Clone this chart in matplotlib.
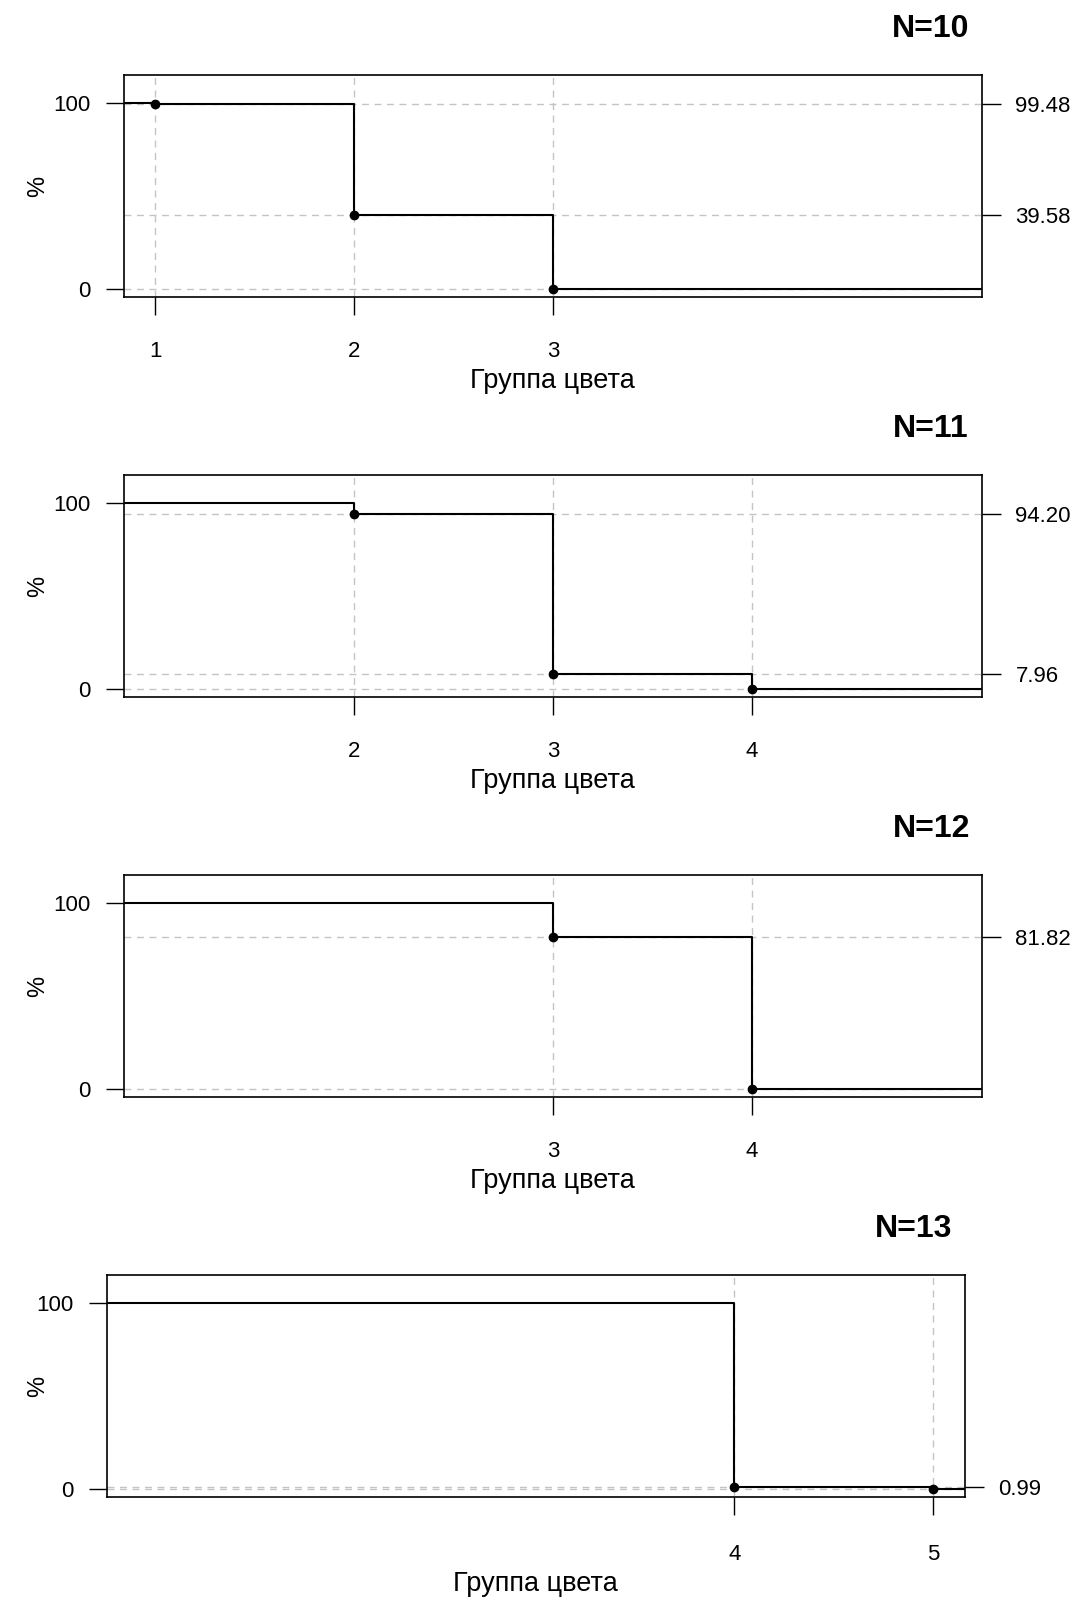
import numpy as np
import matplotlib
matplotlib.use('Agg')
import matplotlib.pyplot as plt

plt.rcParams['font.family'] = ['Liberation Sans', 'DejaVu Sans']

# data
titles = ['N=10', 'N=11', 'N=12', 'N=13']
groups_10 = [1, 2, 3]
pct_10 = [99.48, 39.58, 0.0]
groups_11 = [2, 3, 4]
pct_11 = [94.20, 7.96, 0.0]
groups_12 = [3, 4]
pct_12 = [81.82, 0.0]
groups_13 = [4, 5]
pct_13 = [0.99, 0.0]
start_pct = 100
xlabel = 'Группа цвета'
ylabel = '%'

panels = [(groups_10, pct_10), (groups_11, pct_11),
          (groups_12, pct_12), (groups_13, pct_13)]

W, H = 1077, 1600
fig = plt.figure(figsize=(W / 100, H / 100), dpi=100)

xlim = (0.84, 5.16)
ylim = (-4.5, 115.0)
grid_kw = dict(color='#c4c4c4', lw=1.0, ls=(0, (5, 4)), zorder=1)

for i, (title, (g, p)) in enumerate(zip(titles, panels)):
    last = (i == 3)
    left_px = 106.5 if last else 123.6
    top_px = 400 * i + 75
    bot_px = 400 * i + 297
    ax = fig.add_axes([left_px / W, 1 - bot_px / H, 858.5 / W, (bot_px - top_px) / H])
    ax.set_xlim(*xlim)
    ax.set_ylim(*ylim)

    for gx in g:
        ax.axvline(gx, **grid_kw)
    for py in p:
        ax.axhline(py, **grid_kw)

    xs = [xlim[0] - 1] + list(g) + [xlim[1] + 1]
    ys = [start_pct] + list(p) + [p[-1]]
    ax.step(xs, ys, where='post', color='black', lw=1.5, zorder=3)
    ax.plot(g, p, 'o', color='black', ms=6, zorder=4)

    ax.set_xticks(g)
    ax.set_xticklabels([str(v) for v in g])
    ax.set_yticks([0, 100])
    ax.set_yticklabels(['0', '100'])
    ax.tick_params(axis='x', direction='out', length=13, width=1.0,
                   pad=21 if last else 19, labelsize=16)
    ax.tick_params(axis='y', direction='out', length=13, width=1.0, pad=11, labelsize=16)
    for s in ax.spines.values():
        s.set_linewidth(1.2)

    # right axis with the values
    ax2 = ax.twinx()
    ax2.set_ylim(*ylim)
    vals = [v for v in p if v != 0]
    ax2.set_yticks(vals)
    ax2.set_yticklabels(['%.2f' % v for v in vals])
    ax2.tick_params(axis='y', direction='out', length=14, width=1.0, pad=10, labelsize=16)
    for s in ax2.spines.values():
        s.set_visible(False)

    ax.set_xlabel(xlabel, fontsize=19.5, labelpad=4)
    ax.set_ylabel(ylabel, fontsize=17)
    ax.yaxis.set_label_coords((40 - left_px + 9) / 858.5, 0.5)

    ax.text(0.9406, 1 + 46 / 222, title, transform=ax.transAxes,
            ha='center', va='center', fontsize=23, fontweight='bold')

fig.savefig('out.png', dpi=100)
